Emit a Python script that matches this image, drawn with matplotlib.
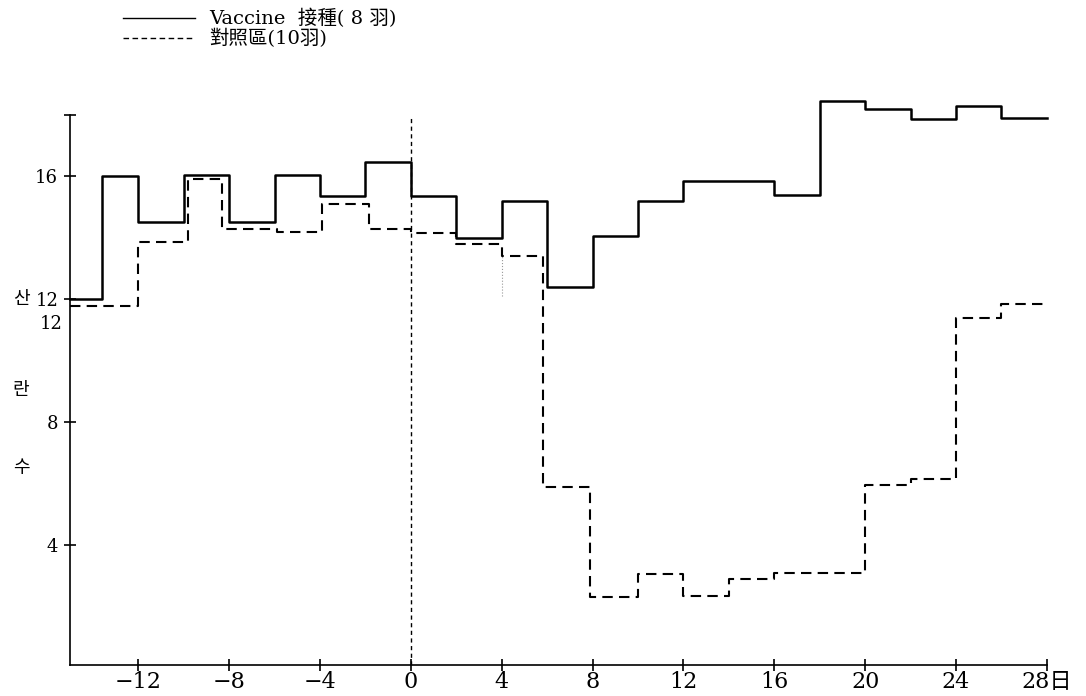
import matplotlib
matplotlib.use('Agg')
import matplotlib.pyplot as plt
from matplotlib.lines import Line2D

plt.rcParams['font.family'] = ['DejaVu Serif', 'Noto Sans CJK TC', 'Noto Sans CJK KR']
plt.rcParams['axes.unicode_minus'] = True

# step edges (days) and egg counts
vaccine_edges = [-15, -13.6, -12, -10, -8, -6, -4, -2, 0, 2, 4, 6, 8, 10, 12, 16, 18, 20, 22, 24, 26, 28]
vaccine_vals = [12.0, 16.0, 14.5, 16.05, 14.5, 16.05, 15.35, 16.45, 15.35, 14.0, 15.2, 12.4,
                14.05, 15.2, 15.85, 15.4, 18.45, 18.2, 17.87, 18.3, 17.9]

control_edges = [-15, -12, -9.8, -8.3, -5.9, -3.9, -1.85, 0, 2, 4, 5.8, 7.9, 10, 12, 14, 16, 20, 22, 24, 26, 28]
control_vals = [11.77, 13.85, 15.9, 14.3, 14.2, 15.1, 14.3, 14.15, 13.8, 13.4, 5.9, 2.3,
                3.05, 2.35, 2.9, 3.1, 5.95, 6.15, 11.4, 11.85]

xticks = [-12, -8, -4, 0, 4, 8, 12, 16, 20, 24, 28]
xlabels = ['\u221212', '\u22128', '\u22124', '0', '4', '8', '12', '16', '20', '24', '28日']
yticks = [4, 8, 12, 16, 18]
ylabels = ['4', '8', '12', '16', '']

fig = plt.figure(figsize=(10.86, 6.96), dpi=100)
fig.set_facecolor('white')
ax = fig.add_axes([0.0645, 0.0445, 0.8995, 0.7905])

ax.step(vaccine_edges, vaccine_vals + [vaccine_vals[-1]], where='post',
        color='black', lw=1.8, clip_on=False)
ax.step(control_edges, control_vals + [control_vals[-1]], where='post',
        color='black', lw=1.5, linestyle=(0, (5, 3)), clip_on=False)

# day-0 marker and faint trace at day 4
ax.plot([0, 0], [0.1, 17.9], color='black', lw=1.0, linestyle=(0, (3, 2.5)))
ax.plot([4, 4], [12.1, 13.4], color='0.6', lw=0.8, linestyle=':')

ax.set_xlim(-15, 28)
ax.set_ylim(0.1, 18.0)
ax.spines['right'].set_color('none')
ax.spines['top'].set_color('none')
ax.spines['left'].set_linewidth(1.2)
ax.spines['bottom'].set_linewidth(1.2)
ax.set_xticks(xticks)
ax.set_xticklabels(xlabels)
ax.set_yticks(yticks)
ax.set_yticklabels(ylabels)
ax.tick_params(axis='x', direction='inout', length=9, width=1.2, labelsize=16, pad=0)
ax.tick_params(axis='y', direction='inout', length=9, width=1.2, labelsize=13, pad=4)

# vertical y label, one syllable at a time, and the stray second "12"
ax.text(-0.05, 12.0, '산', transform=ax.get_yaxis_transform(), fontsize=13,
        ha='center', va='center')
ax.text(-0.05, 9.05, '란', transform=ax.get_yaxis_transform(), fontsize=13,
        ha='center', va='center')
ax.text(-0.05, 6.5, '수', transform=ax.get_yaxis_transform(), fontsize=13,
        ha='center', va='center')
ax.text(-0.008, 11.2, '12', transform=ax.get_yaxis_transform(), fontsize=13,
        ha='right', va='center')

# legend drawn above the axes
fig.add_artist(Line2D([0.113, 0.180], [0.974, 0.974], color='black', lw=1.0,
                      transform=fig.transFigure))
fig.add_artist(Line2D([0.113, 0.180], [0.945, 0.945], color='black', lw=1.0,
                      linestyle=(0, (4, 2.5)), transform=fig.transFigure))
fig.text(0.193, 0.974, 'Vaccine  接種( 8 羽)', fontsize=14, va='center')
fig.text(0.193, 0.945, '對照區(10羽)', fontsize=14, va='center')

fig.savefig('out.png', dpi=100, facecolor='white')
